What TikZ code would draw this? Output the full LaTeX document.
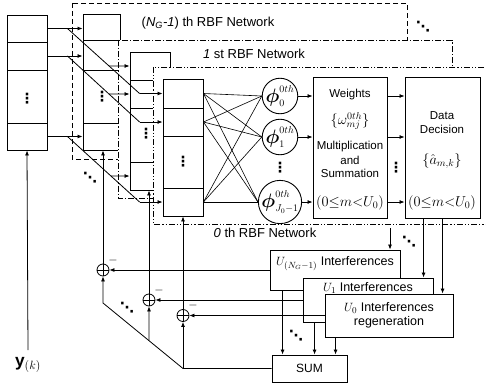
\documentclass[tikz,border=0pt]{standalone}
\usepackage{graphicx}
\usepackage{fontspec}
\setmainfont{Liberation Sans}
\newfontfamily\dotfont{DejaVu Sans}
\usetikzlibrary{arrows.meta,calc}
\begin{document}
\begin{tikzpicture}[x=1pt,y=-1pt, line width=0.8pt,
  >={Latex[length=5pt,width=4pt]},
  cell/.style={draw, fill=white, inner sep=0pt, line width=0.9pt},
  frameB/.style={draw, fill=white, line width=0.9pt, dash pattern=on 5pt off 3pt},
  frameA/.style={draw, fill=white, line width=0.8pt, dash pattern=on 6pt off 2pt on 1.2pt off 2pt},
  frameZ/.style={draw, fill=white, line width=0.8pt, dash pattern=on 6pt off 2pt on 1.2pt off 2pt on 1.2pt off 2pt},
  lbl/.style={font=\fontsize{13}{13}\selectfont, inner sep=0pt},
  txt/.style={font=\fontsize{11.5}{12}\selectfont, inner sep=0pt, align=center},
  mtxt/.style={font=\fontsize{14.4}{14.4}\selectfont, inner sep=0pt, align=center},
  itxt/.style={font=\fontsize{12.5}{14}\selectfont, inner sep=0pt, align=center},
  vd/.style={font=\fontsize{14}{14}\dotfont\bfseries, inner sep=0pt},
  phin/.style={draw, circle, minimum size=34pt, inner sep=0pt, fill=white, line width=0.9pt, font=\fontsize{14.4}{14.4}\selectfont},
  adder/.style={draw, circle, minimum size=12pt, inner sep=0pt, fill=white,
    path picture={\draw (path picture bounding box.north) -- (path picture bounding box.south)
      (path picture bounding box.west) -- (path picture bounding box.east);}},
  blk/.style={draw, fill=white, inner sep=0pt, line width=0.9pt},
  thin/.style={line width=0.6pt},
  arr/.style={->},
]
\useasboundingbox (0,0) rectangle (486,385);

% ---------- (N_G-1)th network ----------
\draw[frameB] (72,3) rectangle (407,159);
\node[lbl] (labB) at (208,23) {(\textit{N}\textsubscript{\textit{G}}\textit{-1}) th RBF Network};
\node[cell, minimum width=37pt, minimum height=26pt] (A1) at (101.5,27) {};
\node[cell, minimum width=37pt, minimum height=30pt] (A2) at (101.5,55) {};
\node[cell, minimum width=37pt, minimum height=53pt] (A3) at (101.5,96.5) {};
\node[cell, minimum width=37pt, minimum height=27pt] (A4) at (101.5,136.5) {};
\node[vd] (dA) at (102,97) {⋮};

% ---------- 1st network ----------
\draw[frameA] (118,40) rectangle (452,198);
\node[lbl] (labA) at (254,54) {\textit{1} st RBF Network};
\node[cell, minimum width=40pt, minimum height=28pt] (B1) at (150,66) {};
\node[cell, minimum width=40pt, minimum height=28pt] (B2) at (150,94) {};
\node[cell, minimum width=40pt, minimum height=54pt] (B3) at (150,135) {};
\node[cell, minimum width=40pt, minimum height=28pt] (B4) at (150,176) {};
\node[vd] (dB) at (146,134) {⋮};

% ---------- 0th network ----------
\draw[frameZ] (153,67) rectangle (500,224);
\node[lbl] (labZ) at (265,233) {\textit{0} th RBF Network};
\node[cell, minimum width=40pt, minimum height=29pt] (C1) at (183,93.5) {};
\node[cell, minimum width=40pt, minimum height=28pt] (C2) at (183,122) {};
\node[cell, minimum width=40pt, minimum height=52pt] (C3) at (183,162) {};
\node[cell, minimum width=40pt, minimum height=28pt] (C4) at (183,202) {};
\node[vd] (dC) at (183,162) {⋮};

\node[phin] (P0) at (280,96) {$\scalebox{1.35}{\boldmath$\phi$}^{0th}_{0}$};
\node[phin] (P1) at (280,137) {$\scalebox{1.35}{\boldmath$\phi$}^{0th}_{1}$};
\node[phin] (PJ) at (280,202) {$\scalebox{1.35}{\boldmath$\phi$}^{0th}_{J_0{-}1}$};
\node[vd] (dP) at (280,168) {⋮};
\foreach \s in {C1,C2,C4} \foreach \t in {P0,P1,PJ}
  \draw[thin] (\s.east) -- (\t.west);

\node[blk, minimum width=74pt, minimum height=141pt] (W) at (350,147.5) {};
\node[txt] (w1) at (350,95) {Weights};
\node[mtxt] (w2) at (350,121) {$\Bigl\{\omega^{0th}_{mj}\Bigr\}$};
\node[txt] (w3) at (350,147) {Multiplication};
\node[txt] (w4) at (350,160) {and};
\node[txt] (w5) at (350,173) {Summation};
\node[mtxt] (w6) at (350,203) {$\bigl(0{\le}m{<}U_0\bigr)$};

\node[blk, minimum width=75pt, minimum height=141pt] (DD) at (442.5,147.5) {};
\node[txt] (e1) at (442,116) {Data};
\node[txt] (e2) at (442,129) {Decision};
\node[mtxt] (e3) at (442,161) {$\Bigl\{\hat{a}_{m,k}\Bigr\}$};
\node[mtxt] (e4) at (442,203) {$\bigl(0{\le}m{<}U_0\bigr)$};
\node[vd] (dW) at (396,168) {⋮};

\foreach \t in {P0,P1,PJ} {
  \draw[arr] (\t.east) -- (\t.east -| W.west);
  \draw[arr] (W.east |- \t) -- (DD.west |- \t);
}

% ---------- left buffer ----------
\node[cell, minimum width=40pt, minimum height=27pt] (L1) at (27,28.5) {};
\node[cell, minimum width=40pt, minimum height=28pt] (L2) at (27,56) {};
\node[cell, minimum width=40pt, minimum height=53pt] (L3) at (27,96.5) {};
\node[cell, minimum width=40pt, minimum height=27pt] (L4) at (27,136.5) {};
\node[vd] (dL) at (27,99) {⋮};

% buffer outputs to (N_G-1)th stack
\draw[arr] (L1.east) -- (L1.east -| A1.west);
\draw[arr] (L2.east) -- (L2.east -| A2.west);
\draw[arr] (L4.east) -- (L4.east -| A4.west);
% diagonals to the 1st and 0th stacks
\coordinate (s1) at ($(L1.east)+(20,0)$);
\coordinate (s2) at ($(L2.east)+(20,0)$);
\coordinate (s3) at ($(L4.east)+(20,0)$);
\coordinate (f1) at ($(C1.west)+(-23,0)$);
\coordinate (f2) at ($(C2.west)+(-23,0)$);
\coordinate (f3) at ($(C4.west)+(-23,0)$);
\draw (s1) -- (f1); \draw[arr] (f1) -- (C1.west);
\draw (s2) -- (f2); \draw[arr] (f2) -- (C2.west);
\draw (s3) -- (f3); \draw[arr] (f3) -- (C4.west);
\coordinate (j1) at (intersection of s1--f1 and B1.west--B1.east);
\coordinate (j2) at (intersection of s2--f2 and B2.west--B2.east);
\coordinate (j3) at (intersection of s3--f3 and B4.west--B4.east);
\draw[arr] (j1) -- (B1.west);
\draw[arr] (j2) -- (B2.west);
\draw[arr] (j3) -- (B4.west);

% input y(k)
\coordinate (yk) at (28,350);
\draw[arr] (yk) -- (L4.south);
\node[font=\fontsize{17.28}{17.28}\selectfont, inner sep=0pt] (ylab) at (28,365) {$\mathbf{y}_{(k)}$};

% ---------- interference regeneration ----------
\node[blk, minimum width=130pt, minimum height=40pt, itxt] (I2) at (335,270) {$U_{(N_G-1)}$ Interferences\\[4pt]};
\node[blk, minimum width=130pt, minimum height=44pt, itxt] (I1) at (368,300) {$U_1$ Interferences\\[12pt]};
\node[blk, minimum width=128pt, minimum height=43pt, itxt] (I0) at (389,315.5) {$U_0$ Interferences\\regeneration};
\node[blk, minimum width=75pt, minimum height=27pt, itxt, font=\fontsize{12}{12}\selectfont] (SUM) at (309.5,368.5) {SUM};

\coordinate (t2) at (390,228);
\coordinate (o1) at ($(DD.south west)+(19,0)$);
\coordinate (o0) at ($(DD.south west)+(38,0)$);
\draw[arr] (t2) -- (t2 |- I2.north);
\draw[arr] (o1) -- (o1 |- I1.north);
\draw[arr] (o0) -- (o0 |- I0.north);

\coordinate (u2) at ($(I2.south west)+(13,0)$);
\coordinate (u1) at ($(I1.south west)+(12,0)$);
\coordinate (u0) at ($(I0.south west)+(11,0)$);
\draw[arr] (u2) -- (u2 |- SUM.north);
\draw[arr] (u1) -- (u1 |- SUM.north);
\draw[arr] (u0) -- (u0 |- SUM.north);

% adders
\node[adder] (S1) at (103,270) {};
\node[adder] (S2) at (149,300) {};
\node[adder] (S3) at (183,315.5) {};
\node[inner sep=0pt, font=\fontsize{12}{12}\selectfont] (m1) at ($(S1)+(10,-10)$) {$-$};
\node[inner sep=0pt, font=\fontsize{12}{12}\selectfont] (m2) at ($(S2)+(10,-10)$) {$-$};
\node[inner sep=0pt, font=\fontsize{12}{12}\selectfont] (m3) at ($(S3)+(10,-10)$) {$-$};

\draw[arr] (I2.west) -- (S1.east);
\draw[arr] (I1.west) -- (S2.east);
\draw[arr] (I0.west) -- (S3.east);

\draw[arr] (S1.north) -- (S1 |- A4.south);
\draw[arr] (S2.north) -- (S2 |- B4.south);
\draw[arr] (S3.north) -- (S3 |- C4.south);

\coordinate (c1) at (S3 |- SUM.west);
\coordinate (c2) at (103,303);
\draw[arr] (SUM.west) -- (c1) -- (c2) -- (S1.south);
\coordinate (b2) at (intersection of c1--c2 and S2.south--S2.north);
\draw[arr] (b2) -- (S2.south);
\draw[arr] (c1) -- (S3.south);

% diagonal dots
\node[vd] (q1) at (423,27) {⋱};
\node[vd] (q2) at (90,178) {⋱};
\node[vd] (q3) at (127,308) {⋱};
\node[vd] (q4) at (409,242) {⋱};
\node[vd] (q5) at (296,336) {⋱};
\end{tikzpicture}
\end{document}
